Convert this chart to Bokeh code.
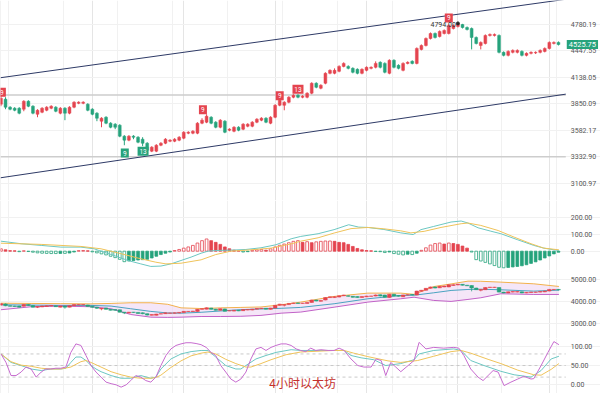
from bokeh.plotting import figure
from bokeh.layouts import column
from bokeh.models import (Range1d, FixedTicker, PrintfTickFormatter, Label,
                          Grid, ColumnDataSource)
from bokeh.core.properties import value
from bokeh.embed import file_html
from bokeh.resources import INLINE

# ---------------- data (4h ETH candles) ----------------
open_ = [3846, 3899, 3815, 3804, 3804, 3794, 3877, 3825, 3742, 3763,
         3783, 3804, 3815, 3753, 3804, 3753, 3815, 3856, 3856, 3846,
         3794, 3753, 3672, 3712, 3652, 3642, 3632, 3525, 3487, 3525,
         3515, 3496, 3458, 3384, 3384, 3439, 3458, 3477, 3477, 3487,
         3506, 3554, 3554, 3554, 3652, 3662, 3712, 3662, 3612, 3672,
         3583, 3573, 3612, 3593, 3622, 3622, 3662, 3682, 3702, 3652,
         3712, 3835, 3835, 3867, 3920, 3942, 3920, 3920, 3963, 4072,
         4017, 4072, 4184, 4184, 4207, 4264, 4264, 4241, 4230, 4184,
         4218, 4241, 4253, 4311, 4299, 4184, 4335, 4276, 4218, 4299,
         4323, 4299, 4466, 4514, 4601, 4664, 4626, 4664, 4664, 4728,
         4754, 4780, 4741, 4728, 4614, 4514, 4539, 4639, 4639, 4639,
         4430, 4394, 4430, 4430, 4442, 4394, 4418, 4424, 4430, 4442,
         4478, 4539, 4552]
close_ = [3909, 3815, 3794, 3783, 3753, 3877, 3825, 3753, 3783, 3804,
          3815, 3825, 3773, 3804, 3753, 3815, 3867, 3867, 3867, 3783,
          3742, 3702, 3702, 3652, 3612, 3612, 3525, 3487, 3525, 3515,
          3468, 3458, 3393, 3421, 3439, 3458, 3496, 3487, 3496, 3515,
          3563, 3563, 3573, 3652, 3682, 3722, 3652, 3612, 3682, 3563,
          3593, 3612, 3583, 3642, 3642, 3662, 3692, 3702, 3662, 3712,
          3835, 3888, 3867, 3920, 3942, 3920, 3931, 3963, 4072, 4028,
          4050, 4184, 4218, 4218, 4264, 4299, 4241, 4196, 4184, 4230,
          4253, 4253, 4299, 4253, 4196, 4335, 4253, 4241, 4299, 4311,
          4299, 4478, 4514, 4601, 4664, 4614, 4690, 4703, 4767, 4767,
          4786, 4741, 4716, 4614, 4539, 4552, 4639, 4652, 4652, 4430,
          4394, 4442, 4454, 4454, 4394, 4418, 4430, 4430, 4454, 4478,
          4552, 4552, 4525.75]
high_ = [3942, 3920, 3825, 3815, 3815, 3888, 3888, 3835, 3794, 3815,
         3825, 3835, 3825, 3815, 3815, 3825, 3877, 3877, 3877, 3856,
         3804, 3763, 3712, 3722, 3662, 3652, 3642, 3535, 3535, 3535,
         3525, 3515, 3468, 3430, 3449, 3468, 3506, 3496, 3506, 3525,
         3573, 3573, 3583, 3662, 3702, 3742, 3722, 3672, 3692, 3682,
         3602, 3622, 3622, 3652, 3652, 3672, 3702, 3712, 3712, 3722,
         3846, 3899, 3877, 3931, 3952, 3952, 3942, 3973, 4083, 4083,
         4061, 4196, 4230, 4241, 4276, 4311, 4276, 4253, 4241, 4241,
         4264, 4264, 4323, 4323, 4311, 4347, 4347, 4288, 4311, 4323,
         4335, 4490, 4527, 4614, 4677, 4677, 4703, 4716, 4780, 4780,
         4794, 4788, 4754, 4741, 4626, 4564, 4652, 4664, 4664, 4652,
         4442, 4454, 4466, 4466, 4454, 4430, 4442, 4442, 4466, 4490,
         4564, 4564, 4564]
low_ = [3825, 3794, 3783, 3773, 3742, 3773, 3815, 3742, 3712, 3753,
        3773, 3794, 3763, 3742, 3682, 3742, 3804, 3846, 3846, 3773,
        3732, 3672, 3612, 3642, 3602, 3593, 3515, 3439, 3477, 3496,
        3458, 3430, 3375, 3375, 3375, 3430, 3449, 3468, 3468, 3477,
        3496, 3544, 3544, 3544, 3642, 3652, 3642, 3602, 3602, 3554,
        3573, 3563, 3573, 3583, 3612, 3612, 3652, 3672, 3652, 3642,
        3702, 3825, 3783, 3856, 3909, 3909, 3909, 3909, 3952, 4017,
        4006, 4061, 4173, 4173, 4196, 4253, 4230, 4184, 4173, 4173,
        4207, 4230, 4241, 4241, 4184, 4173, 4241, 4230, 4207, 4288,
        4288, 4288, 4454, 4502, 4589, 4601, 4614, 4652, 4652, 4716,
        4741, 4728, 4703, 4466, 4527, 4466, 4527, 4626, 4626, 4418,
        4382, 4382, 4418, 4418, 4382, 4382, 4406, 4410, 4418, 4430,
        4466, 4527, 4514]

price_ticks = [3100.97, 3332.90, 3582.17, 3850.09, 4138.05, 4447.55, 4780.19]
levels = [3945, 3332.90]
chan_x = [-0.1, 123.6]
chan_upper = [4134, 5120]
chan_lower = [3147, 3953]

td_red_x = [0.2, 44.2, 61.0, 65.0, 98.0]
td_red_y = [3973, 3789, 3937, 4006, 4866]
td_red_t = ["9", "9", "9", "13", "9"]
td_green_x = [27.1, 31.1]
td_green_y = [3366, 3384]
td_green_t = ["9", "13"]
peak_x = 100
peak_price = 4794.00
last_price = 4525.75

macd_hist = [14, 8, 3, 2, -3, 2, -2, -6, -10, -12,
             -13, -14, -14, -13, -13, -11, -5, 3, 4, 2,
             -4, -10, -16, -22, -30, -38, -48, -62, -58, -55,
             -52, -50, -48, -40, -30, -20, -12, -5, 4, 10,
             18, 25, 34, 48, 62, 72, 62, 52, 40, 25,
             14, 6, 3, -5, -3, 5, 8, 10, 6, 14,
             25, 35, 42, 50, 58, 62, 52, 56, 50, 55,
             58, 60, 60, 58, 52, 50, 40, 28, 16, 8,
             4, 2, -2, -3, -8, -5, -14, -18, -22, -18,
             -20, -12, 5, 20, 36, 45, 48, 42, 48, 45,
             40, 30, 18, -5, -50, -58, -66, -75, -85, -95,
             -98, -96, -93, -90, -86, -80, -72, -63, -52, -40,
             -28, -16, -6]
dif_x = [0, 4.4, 8.8, 13.1, 17.5, 20.4, 21.9, 24.7, 27.8, 30.6, 32.8, 35.0, 37.2, 39.4, 41.6,
         43.8, 45.3, 47.0, 50.3, 53.6, 56.9, 60.2, 63.5, 65.6, 69.4, 72.9, 76.1, 78.3, 80.3, 83.8,
         87.5, 90.2, 91.9, 94.7, 98.5, 100.7, 102.2, 104.4, 107.2, 109.4, 113.1, 116.6, 118.8, 121.0, 122.1]
dif = [59, 44, 34, 24, 24, 14, 0, -25, -55, -75, -90, -88, -75, -55, -35,
       -12, 0, 4, 6, 10, 20, 38, 73, 87, 103, 127, 156, 142, 140, 128,
       108, 98, 127, 146, 172, 178, 166, 138, 118, 103, 67, 34, 18, 8, 4]
dea_x = [0, 8.8, 17.5, 21.9, 26.3, 30.6, 33.9, 36.1, 39.4, 43.8, 47.0, 50.3, 54.7, 59.1, 63.5,
         65.6, 69.4, 72.9, 76.6, 80.3, 83.8, 87.5, 89.7, 92.6, 96.3, 100.7, 102.2, 105.0, 108.8,
         112.3, 116.0, 118.8, 122.1]
dea = [47, 40, 28, 14, -15, -45, -65, -75, -71, -51, -20, 0, 8, 18, 43,
       59, 79, 107, 133, 140, 132, 120, 108, 117, 140, 162, 166, 152, 122,
       83, 44, 18, 8]

boll_x = [0, 6.6, 13.1, 19.7, 24.1, 28.4, 32.8, 36.5, 39.4, 43.8, 48.1, 52.5, 56.9, 61.3,
          65.6, 72.9, 80.3, 87.5, 90.4, 94.7, 98.5, 102.2, 105.0, 109.4, 116.6, 122.1]
boll_upper = [3930, 3920, 3910, 3900, 3920, 3950, 3950, 3880, 3720, 3690, 3720, 3740, 3760, 3860,
              3980, 4235, 4385, 4385, 4330, 4680, 4800, 4925, 4920, 4880, 4805, 4685]
boll_mid = [3860, 3845, 3830, 3830, 3800, 3680, 3560, 3490, 3480, 3520, 3580, 3640, 3670, 3700,
            3740, 3905, 4130, 4280, 4290, 4400, 4505, 4550, 4560, 4535, 4475, 4520]
boll_lower = [3635, 3770, 3800, 3770, 3680, 3420, 3300, 3290, 3300, 3330, 3330, 3340, 3380, 3480,
              3530, 3750, 3980, 4130, 4200, 4055, 4010, 4100, 4175, 4355, 4325, 4325]

j_x = [0, 1.1, 2.2, 3.3, 4.4, 5.5, 6.6, 7.7, 8.8, 9.8, 10.9, 12.0, 13.1, 14.2, 15.3, 16.4, 17.5,
       18.6, 19.7, 20.8, 21.9, 23.0, 24.1, 25.2, 26.3, 27.4, 28.4, 29.5, 30.6, 31.7, 32.8, 33.9,
       35.0, 36.1, 37.2, 38.3, 39.4, 40.5, 41.6, 42.7, 43.8, 44.9, 46.0, 47.0, 48.1, 49.2, 50.3,
       51.4, 52.5, 53.6, 54.7, 55.8, 56.9, 58.0, 59.1, 60.2, 61.3, 62.4, 63.5, 64.6, 65.6, 66.7,
       67.8, 68.9, 70.0, 71.6, 72.9, 74.0, 75.1, 76.6, 78.1, 79.4, 81.0, 82.1, 83.2, 84.2, 85.3,
       86.4, 87.5, 89.1, 90.4, 91.5, 93.0, 94.7, 96.9, 99.1, 100.2, 101.3, 102.8, 104.4, 105.5,
       106.6, 107.7, 108.8, 110.1, 111.6, 113.1, 114.4, 116.0, 116.6, 118.2, 119.7, 121.0, 122.1]
j_val = [80, 58, 24, 24, 33, 46, 41, 20, 33, 41, 41, 43, 43, 46, 84, 106, 102, 76, 50, 33,
         20, 7, 3, 0, -6, 0, 11, 24, 20, 11, 7, 20, 50, 76, 93, 102, 106, 109, 109, 107,
         104, 97, 84, 76, 50, 33, 15, 7, 15, 33, 67, 93, 97, 89, 97, 102, 106, 106, 102, 93,
         89, 86, 95, 89, 91, 89, 89, 95, 89, 67, 50, 46, 46, 67, 63, 24, 58, 46, 34, 50,
         63, 110, 93, 97, 95, 97, 95, 76, 41, 20, 11, 24, 37, 33, -2, 7, 15, 22, 15, 16,
         50, 84, 112, 104]
k_x = [0, 2.2, 4.4, 6.6, 8.8, 10.9, 13.1, 14.2, 15.3, 16.4, 17.5, 18.6, 19.7, 20.8, 21.9, 24.1,
       26.3, 28.4, 30.6, 32.8, 33.9, 35.0, 37.2, 39.4, 41.6, 43.8, 45.3, 47.0, 49.2, 51.4, 52.5,
       53.6, 55.8, 58.0, 60.2, 63.5, 65.6, 72.9, 75.1, 76.6, 78.8, 81.6, 84.2, 87.5, 90.4, 91.5,
       94.7, 99.1, 100.7, 102.8, 105.7, 109.4, 112.3, 116.0, 118.2, 120.4, 122.1]
k_val = [80, 58, 50, 41, 37, 41, 41, 43, 58, 72, 72, 63, 50, 41, 34, 24, 17, 17, 24, 17,
         20, 41, 67, 80, 86, 89, 89, 72, 50, 41, 41, 50, 67, 76, 84, 91, 89, 89, 89, 76,
         70, 65, 50, 55, 65, 80, 89, 93, 89, 63, 50, 35, 26, 20, 37, 67, 74]
d_x = [0, 2.2, 4.4, 6.6, 8.8, 10.9, 13.1, 15.3, 17.5, 18.6, 19.7, 21.9, 24.1, 26.3, 28.4, 30.6,
       32.8, 33.9, 35.0, 37.2, 39.4, 41.6, 43.8, 45.3, 47.0, 49.2, 51.4, 53.6, 54.7, 56.9, 59.1,
       62.4, 65.6, 72.9, 75.1, 77.2, 80.3, 84.7, 87.5, 91.2, 94.7, 98.5, 100.7, 102.8, 106.6,
       109.4, 113.1, 116.6, 118.2, 120.4, 122.1]
d_val = [80, 60, 51, 48, 43, 41, 41, 46, 60, 63, 58, 46, 34, 26, 20, 17, 17, 19, 25, 45,
         62, 75, 82, 85, 80, 66, 55, 46, 46, 55, 65, 78, 85, 89, 89, 82, 73, 62, 58, 63,
         74, 86, 89, 82, 66, 55, 38, 26, 25, 40, 55]
kdj_levels = [20, 50, 80]
watermark = "4小时以太坊"

# ---------------- styling ----------------
UP = "#e4444f"
DOWN = "#26a37c"
GRID = "#f1f1f1"
FONT = "Roboto"

n = len(close_)
idx = list(range(n))
X_END = 123.6                       # right edge of the candle area
xr = Range1d(-0.1, 131.2)           # extra room on the right for the price scale
vticks = [1.6 + 12 * k for k in range(11)]


def panel(h, yr, ticks, log=False):
    p = figure(frame_width=600, frame_height=h, x_range=xr, y_range=yr,
               y_axis_type="log" if log else "linear", y_axis_location="right",
               x_axis_location=None, output_backend="svg", toolbar_location=None,
               min_border_left=0, min_border_right=0, min_border_top=0,
               min_border_bottom=0)
    p.outline_line_color = None
    ax = p.yaxis[0]
    ax.fixed_location = X_END
    ax.ticker = FixedTicker(ticks=ticks)
    ax.formatter = PrintfTickFormatter(format="%.2f")
    ax.axis_line_color = None
    ax.major_tick_line_color = None
    ax.minor_tick_line_color = None
    ax.major_tick_out = 0
    ax.major_tick_in = 0
    ax.minor_tick_out = 0
    ax.major_label_text_font_size = "7px"
    ax.major_label_text_color = "#555555"
    ax.major_label_text_font = FONT
    ax.major_label_standoff = 5
    p.ygrid.grid_line_color = GRID
    p.add_layout(Grid(dimension=0, ticker=FixedTicker(ticks=vticks), grid_line_color=GRID))
    return p


colors = [UP if c >= o else DOWN for o, c in zip(open_, close_)]
src = ColumnDataSource(dict(
    x=idx, open=open_, close=close_, high=high_, low=low_,
    top=[max(o, c) for o, c in zip(open_, close_)],
    bottom=[min(o, c) for o, c in zip(open_, close_)],
    color=colors))

# ---- main price panel ----
p1 = panel(200, Range1d(2958, 5103), price_ticks, log=True)
p1.multi_line(xs=[chan_x for _ in levels], ys=[[lv, lv] for lv in levels],
              line_color="#cdcdcd", line_width=1.5)
p1.line(chan_x, chan_upper, line_color="#2e3a66", line_width=1)
p1.line(chan_x, chan_lower, line_color="#2e3a66", line_width=1)
p1.segment(x0="x", y0="high", x1="x", y1="low", line_color="color", line_width=1, source=src)
p1.vbar(x="x", width=0.62, top="top", bottom="bottom", fill_color="color",
        line_color="color", line_width=0.5, source=src)

red_w = [8 if len(t) == 1 else 11 for t in td_red_t]
p1.rect(x=td_red_x, y=td_red_y, width=red_w, height=9, width_units="screen",
        height_units="screen", fill_color=UP, line_color=None)
p1.text(x=td_red_x, y=td_red_y, text=td_red_t, text_color="white", text_font=value(FONT),
        text_font_size="6.5px", text_align="center", text_baseline="middle")
green_w = [8 if len(t) == 1 else 11 for t in td_green_t]
p1.rect(x=td_green_x, y=td_green_y, width=green_w, height=9, width_units="screen",
        height_units="screen", fill_color=DOWN, line_color=None)
p1.text(x=td_green_x, y=td_green_y, text=td_green_t, text_color="white", text_font=value(FONT),
        text_font_size="6.5px", text_align="center", text_baseline="middle")

p1.scatter(x=[peak_x], y=[peak_price], size=3, color="#222222")
p1.text(x=[peak_x], y=[peak_price], text=["%.2f" % peak_price], x_offset=-2, y_offset=1,
        text_color="#333333", text_font=value(FONT), text_font_size="7px",
        text_align="right", text_baseline="middle")
p1.add_layout(Label(x=X_END, y=last_price, x_offset=1, text="%.2f" % last_price,
                    text_font=FONT, text_font_size="7.5px", text_color="white",
                    text_baseline="middle", background_fill_color=DOWN, padding=2))

# ---- MACD panel ----
p2 = panel(70, Range1d(-114, 299), [0, 100, 200])
mfill, mline = [], []
for i, v in enumerate(macd_hist):
    prev = macd_hist[i - 1] if i > 0 else 0
    col = UP if v >= 0 else DOWN
    hollow = (v >= prev) if v >= 0 else (v <= prev)
    mline.append(col)
    mfill.append("white" if hollow else col)
p2.vbar(x=idx, width=0.6, top=macd_hist, bottom=0, fill_color=mfill, line_color=mline,
        line_width=0.8)
p2.line(dif_x, dif, line_color="#6cc7c2", line_width=1)
p2.line(dea_x, dea, line_color="#efc35a", line_width=1)

# ---- BOLL panel ----
p3 = panel(68, Range1d(2338, 5405), [3000, 4000, 5000])
p3.varea(x=boll_x, y1=boll_lower, y2=boll_upper, fill_color="#efd6f3", fill_alpha=0.6)
p3.line(boll_x, boll_upper, line_color="#f2b14c", line_width=1)
p3.line(boll_x, boll_mid, line_color="#4aa3c0", line_width=1)
p3.line(boll_x, boll_lower, line_color="#c162c7", line_width=1)
p3.segment(x0="x", y0="high", x1="x", y1="low", line_color="color", line_width=0.8, source=src)
p3.vbar(x="x", width=0.8, top="top", bottom="bottom", fill_color="color",
        line_color="color", line_width=0.5, source=src)

# ---- KDJ panel ----
p4 = panel(55, Range1d(-22.5, 120), [0, 50, 100])
p4.multi_line(xs=[chan_x for _ in kdj_levels], ys=[[lv, lv] for lv in kdj_levels],
              line_color="#c9c9c9", line_width=1, line_dash="3 3")
p4.line(k_x, k_val, line_color="#6cc7c2", line_width=1)
p4.line(d_x, d_val, line_color="#efc35a", line_width=1)
p4.line(j_x, j_val, line_color="#c76ccf", line_width=1)
p4.add_layout(Label(x=66, y=6, text=watermark, text_font="Noto Sans CJK SC",
                    text_font_size="12px", text_color="#c4302b",
                    text_align="center", text_baseline="middle"))

layout = column(p1, p2, p3, p4, spacing=0)
open("out.html", "w").write(file_html(layout, INLINE))
